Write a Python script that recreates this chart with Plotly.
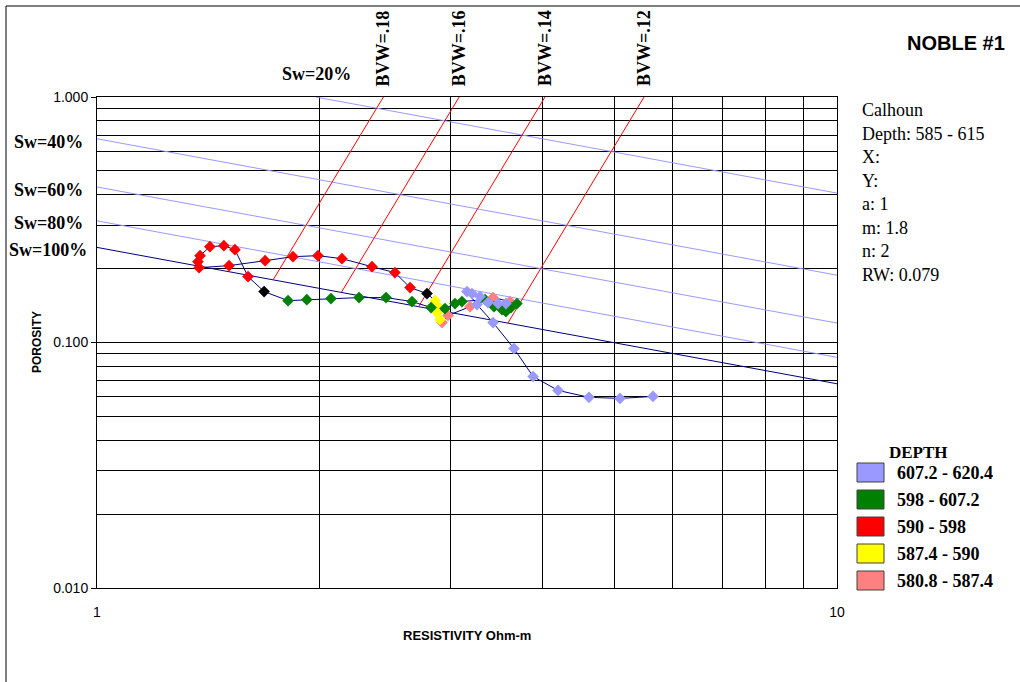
import numpy as np
import plotly.graph_objects as go

# ---------------- data ----------------
# Depth intervals (in depth order) : resistivity (ohm-m) and porosity
pink_rt = [3.614, 3.429, 3.192, 2.981, 2.926]
pink_phi = [0.1468, 0.1524, 0.1400, 0.1288, 0.1206]

yellow_rt = [2.908, 2.881, 2.890, 2.863]
yellow_phi = [0.1241, 0.1324, 0.1400, 0.1481]

black1_rt = [2.792]
black1_phi = [0.1582]

red_rt = [2.649, 2.527, 2.353, 2.143, 1.989, 1.840, 1.687, 1.508, 1.374,
          1.369, 1.378, 1.421, 1.484, 1.536, 1.600]
red_phi = [0.1674, 0.1926, 0.2036, 0.2195, 0.2258, 0.2237, 0.2154, 0.2056, 0.2018,
           0.2135, 0.2258, 0.2456, 0.2479, 0.2388, 0.1855]

black2_rt = [1.682]
black2_phi = [0.1612]

green_rt = [1.812, 1.921, 2.071, 2.260, 2.458, 2.665, 2.828, 2.953, 3.046, 3.113,
            3.345, 3.440, 3.526, 3.570, 3.626, 3.694]
green_phi = [0.1481, 0.1495, 0.1510, 0.1524, 0.1524, 0.1468, 0.1388, 0.1375, 0.1441, 0.1468,
             0.1495, 0.1400, 0.1362, 0.1337, 0.1388, 0.1441]

lav_rt = [3.570, 3.483, 3.376, 3.293, 3.212, 3.162, 3.262, 3.429, 3.660, 3.884,
          4.198, 4.622, 5.090, 5.641]
lav_phi = [0.1441, 0.1441, 0.1454, 0.1538, 0.1582, 0.1612, 0.1427, 0.1206, 0.0945, 0.0727,
           0.0638, 0.0598, 0.0592, 0.0603]

legend_labels = ["607.2 - 620.4", "598 - 607.2", "590 - 598", "587.4 - 590", "580.8 - 587.4"]
legend_colors = ["#9999FF", "#008000", "#FF0000", "#FFFF00", "#FF8080"]

# Water saturation lines (Archie, a=1, m=1.8, n=2, Rw=0.079)
sw_labels = ["Sw=20%", "Sw=40%", "Sw=60%", "Sw=80%", "Sw=100%"]
sw_rt_start = [1.975, 1.0, 1.0, 1.0, 1.0]
sw_phi_start = [1.0, 0.676, 0.430, 0.313, 0.244]
sw_rt_end = [10.0, 10.0, 10.0, 10.0, 10.0]
sw_phi_end = [0.406, 0.188, 0.120, 0.087, 0.0679]
sw_colors = ["#9999FF", "#9999FF", "#9999FF", "#9999FF", "#000080"]

# Bulk volume water lines
bvw_labels = ["BVW=.18", "BVW=.16", "BVW=.14", "BVW=.12"]
bvw_values = [0.18, 0.16, 0.14, 0.12]
bvw_rt_top = [2.438, 3.086, 4.031, 5.486]
bvw_rt_bot = [1.730, 2.139, 2.720, 3.591]

info_lines = ["Calhoun", "Depth: 585 - 615", "X:", "Y:", "a: 1", "m: 1.8", "n: 2", "RW: 0.079"]

y_major = [0.01, 0.1, 1.0]
y_major_text = ["0.010", "0.100", "1.000"]
y_minor = [0.02, 0.03, 0.04, 0.05, 0.06, 0.07, 0.08, 0.09,
           0.2, 0.3, 0.4, 0.5, 0.6, 0.7, 0.8, 0.9]
x_major = [1, 10]
x_major_text = ["1", "10"]
x_minor = [2, 3, 4, 5, 6, 7, 8, 9]

# ---------------- figure ----------------
SERIF = "Liberation Serif"
SANS = "Liberation Sans"
fig = go.Figure()

for i in range(len(sw_labels)):
    fig.add_trace(go.Scatter(x=[sw_rt_start[i], sw_rt_end[i]], y=[sw_phi_start[i], sw_phi_end[i]],
                             mode="lines", line=dict(color=sw_colors[i], width=1),
                             showlegend=False, hoverinfo="skip"))
for i in range(len(bvw_labels)):
    fig.add_trace(go.Scatter(x=[bvw_rt_bot[i], bvw_rt_top[i]], y=[bvw_values[i], 1.0],
                             mode="lines", line=dict(color="#FF0000", width=1),
                             showlegend=False, hoverinfo="skip"))

path_rt = pink_rt + yellow_rt + black1_rt + red_rt + black2_rt + green_rt + lav_rt
path_phi = pink_phi + yellow_phi + black1_phi + red_phi + black2_phi + green_phi + lav_phi
fig.add_trace(go.Scatter(x=path_rt, y=path_phi, mode="lines",
                         line=dict(color="#000080", width=1), showlegend=False, hoverinfo="skip"))

groups = [
    (pink_rt, pink_phi, legend_colors[4]),
    (yellow_rt, yellow_phi, legend_colors[3]),
    (black1_rt + black2_rt, black1_phi + black2_phi, "#000000"),
    (red_rt, red_phi, legend_colors[2]),
    (green_rt, green_phi, legend_colors[1]),
    (lav_rt, lav_phi, legend_colors[0]),
]
for rt, phi, col in groups:
    fig.add_trace(go.Scatter(x=rt, y=phi, mode="markers",
                             marker=dict(symbol="diamond", size=9, color=col, line=dict(width=0)),
                             showlegend=False))

W, H = 1020, 682
L, R, T, B = 97, 183, 97, 94
PW, PH = W - L - R, H - T - B


def px(x):
    return (x - L) / PW


def py(y):
    return (H - B - y) / PH


ann = []
# Sw labels
ann.append(dict(text="Sw=20%", x=px(316), y=py(74), xanchor="center", yanchor="middle"))
ann.append(dict(text="Sw=40%", x=px(12), y=py(142), xanchor="left", yanchor="middle"))
ann.append(dict(text="Sw=60%", x=px(12), y=py(190), xanchor="left", yanchor="middle"))
ann.append(dict(text="Sw=80%", x=px(12), y=py(223), xanchor="left", yanchor="middle"))
ann.append(dict(text="Sw=100%", x=px(7), y=py(250), xanchor="left", yanchor="middle"))
for a in ann:
    a.update(xref="paper", yref="paper", showarrow=False,
             font=dict(family=SERIF, size=18, color="black"))
    a["text"] = "<b>" + a["text"] + "</b>"

for i, lab in enumerate(bvw_labels):
    ann.append(dict(text="<b>" + lab + "</b>", x=np.log10(bvw_rt_top[i]), xref="x",
                    y=py(88), yref="paper", xanchor="center", yanchor="bottom",
                    textangle=-90, showarrow=False,
                    font=dict(family=SERIF, size=18, color="black")))

ann.append(dict(text="<b>NOBLE #1</b>", x=px(1007), y=py(43), xref="paper", yref="paper",
                xanchor="right", yanchor="middle", showarrow=False,
                font=dict(family=SANS, size=20, color="black")))

info_y = [110, 134, 157, 181, 204, 228, 251, 275]
for t, yy in zip(info_lines, info_y):
    ann.append(dict(text=t, x=px(860), y=py(yy), xref="paper", yref="paper",
                    xanchor="left", yanchor="middle", showarrow=False,
                    font=dict(family=SERIF, size=18, color="black")))

ann.append(dict(text="<b>POROSITY</b>", x=px(37), y=py(342), xref="paper", yref="paper",
                textangle=-90, xanchor="center", yanchor="middle", showarrow=False,
                font=dict(family=SANS, size=12, color="black")))
ann.append(dict(text="<b>RESISTIVITY Ohm-m</b>", x=px(467), y=py(635), xref="paper", yref="paper",
                xanchor="center", yanchor="middle", showarrow=False,
                font=dict(family=SANS, size=13, color="black")))

# legend (drawn manually)
ann.append(dict(text="<b>DEPTH</b>", x=px(918), y=py(452), xref="paper", yref="paper",
                xanchor="center", yanchor="middle", showarrow=False,
                font=dict(family=SERIF, size=17, color="black")))
shapes = []
row_y = [472.5, 499.5, 526.5, 553.5, 580.5]
for lab, col, yy in zip(legend_labels, legend_colors, row_y):
    shapes.append(dict(type="rect", xref="paper", yref="paper",
                       x0=px(857), x1=px(884), y0=py(yy + 9.5), y1=py(yy - 9.5),
                       fillcolor=col, line=dict(color="#404040", width=1)))
    ann.append(dict(text="<b>" + lab + "</b>", x=px(895), y=py(yy), xref="paper", yref="paper",
                    xanchor="left", yanchor="middle", showarrow=False,
                    font=dict(family=SERIF, size=18, color="black")))

# outer chart border (top and left visible, right/bottom off the page)
shapes.append(dict(type="rect", xref="paper", yref="paper", x0=px(6), x1=px(1040),
                   y0=py(720), y1=py(6), line=dict(color="black", width=1),
                   fillcolor="rgba(0,0,0,0)", layer="above"))

fig.update_layout(
    width=W, height=H, autosize=False,
    margin=dict(l=L, r=R, t=T, b=B, pad=0),
    paper_bgcolor="white", plot_bgcolor="white",
    showlegend=False,
    annotations=ann, shapes=shapes,
    xaxis=dict(type="log", range=[0, 1], tickmode="array", tickvals=x_major, ticktext=x_major_text,
               showgrid=True, gridcolor="black", gridwidth=1,
               showline=True, linecolor="black", linewidth=1, mirror=True,
               ticks="", ticklabelstandoff=11,
               tickfont=dict(family=SANS, size=14, color="black"),
               minor=dict(tickmode="array", tickvals=x_minor, showgrid=True,
                          gridcolor="black", gridwidth=1, ticks=""),
               zeroline=False),
    yaxis=dict(type="log", range=[-2, 0], tickmode="array", tickvals=y_major, ticktext=y_major_text,
               showgrid=True, gridcolor="black", gridwidth=1,
               showline=True, linecolor="black", linewidth=1, mirror=True,
               ticks="outside", ticklen=5, tickcolor="black",
               tickfont=dict(family=SANS, size=14, color="black"),
               minor=dict(tickmode="array", tickvals=y_minor, showgrid=True,
                          gridcolor="black", gridwidth=1, ticks=""),
               zeroline=False),
)

fig.write_html("out.html", config={"displayModeBar": False},
               post_script="document.body.style.margin='0';document.body.style.padding='0';")
